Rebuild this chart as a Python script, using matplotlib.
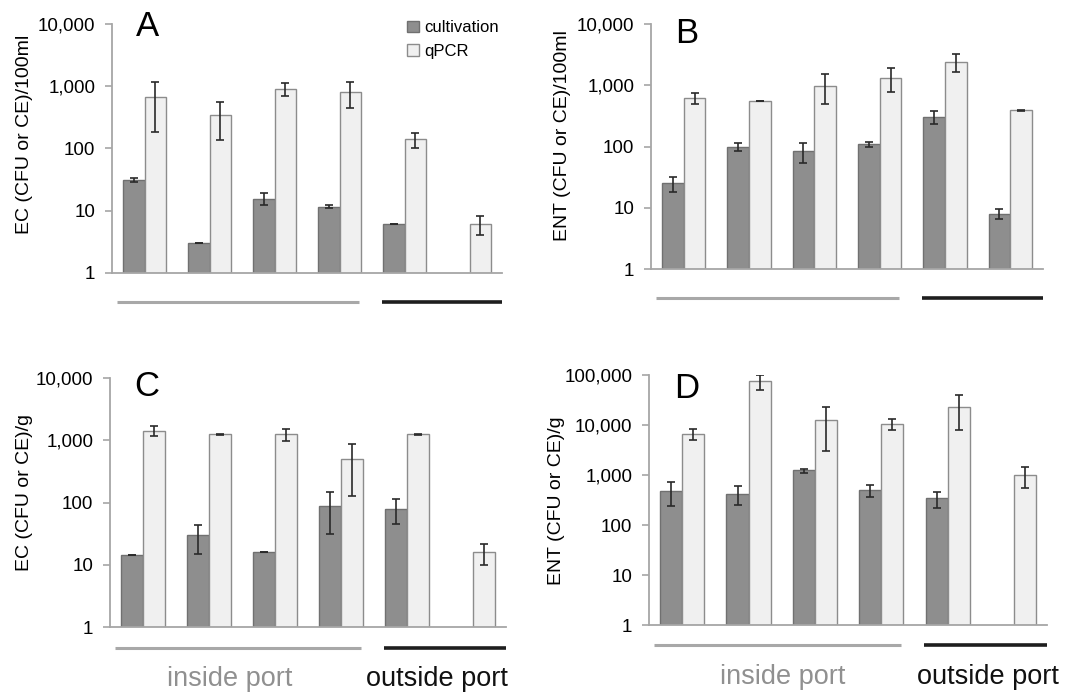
import numpy as np
import matplotlib
matplotlib.use("Agg")
import matplotlib.pyplot as plt
import matplotlib.transforms as mtransforms
from matplotlib.ticker import FixedLocator, FuncFormatter, NullLocator
from matplotlib.patches import Patch

plt.rcParams['font.family'] = ['Liberation Sans', 'DejaVu Sans']

nan = np.nan

# panel A - EC water (CFU or CE)/100ml
a_cult = [31, 3.0, 15.4, 11.6, 6.1, nan]
a_cult_lo = [29, 3.0, 12.2, 10.9, 6.1, nan]
a_cult_hi = [33, 3.0, 19.3, 12.4, 6.1, nan]
a_qpcr = [673, 349, 917, 800, 141, 6.1]
a_qpcr_lo = [181, 138, 690, 447, 102, 4.0]
a_qpcr_hi = [1170, 566, 1140, 1170, 179, 8.1]

# panel B - ENT water
b_cult = [25, 99, 84, 110, 305, 8.0]
b_cult_lo = [17.8, 86, 54, 98, 234, 6.45]
b_cult_hi = [32, 113, 115, 119, 377, 9.4]
b_qpcr = [629, 548, 988, 1333, 2370, 391]
b_qpcr_lo = [490, 548, 490, 769, 1650, 387]
b_qpcr_hi = [760, 548, 1510, 1890, 3240, 395]

# panel C - EC sediment (CFU or CE)/g
c_cult = [14.5, 29.6, 16.1, 89, 78, nan]
c_cult_lo = [14.5, 15, 16.1, 31, 44.5, nan]
c_cult_hi = [14.5, 43, 16.1, 146, 112, nan]
c_qpcr = [1418, 1253, 1238, 496, 1253, 16]
c_qpcr_lo = [1150, 1225, 955, 129, 1225, 10]
c_qpcr_hi = [1690, 1280, 1490, 875, 1280, 21.7]

# panel D - ENT sediment
d_cult = [490, 426, 1247, 505, 349, nan]
d_cult_lo = [242, 253, 1120, 360, 220, nan]
d_cult_hi = [718, 597, 1346, 625, 467, nan]
d_qpcr = [6730, 74800, 12800, 10350, 23300, 1022]
d_qpcr_lo = [5110, 49400, 3030, 7850, 7850, 545]
d_qpcr_hi = [8220, 98500, 23300, 13000, 39300, 1476]

series_names = ["cultivation", "qPCR"]
group_names = ["inside port", "outside port"]

dark = "#8e8e8e"
dark_edge = "#707070"
light = "#f0f0f0"
light_edge = "#8c8c8c"
axis_col = "#a6a6a6"


def fmt(v, pos):
    return "{:,}".format(int(round(v)))


def draw_panel(ax, cult, cult_lo, cult_hi, qpcr, qpcr_lo, qpcr_hi, top, ylab, letter, letter_y):
    x = np.arange(len(cult))
    w = 1 / 3
    for vals, lo, hi, off, fc, ec in [(cult, cult_lo, cult_hi, -w / 2, dark, dark_edge),
                                      (qpcr, qpcr_lo, qpcr_hi, w / 2, light, light_edge)]:
        vals = np.array(vals, dtype=float)
        ax.bar(x + off, vals - 1, width=w, bottom=1, color=fc, edgecolor=ec, linewidth=1.0, zorder=2)
        err = np.vstack([vals - np.array(lo), np.array(hi) - vals])
        ax.errorbar(x + off, vals, yerr=err, fmt="none", ecolor="#2a2a2a", elinewidth=1.2,
                    capsize=3, capthick=1.2, zorder=3)
    ax.set_yscale("log")
    ax.set_ylim(1, top)
    ax.set_xlim(-0.5, len(cult) - 0.5)
    ticks = [10 ** k for k in range(int(np.log10(top)) + 1)]
    ax.yaxis.set_major_locator(FixedLocator(ticks))
    ax.yaxis.set_minor_locator(NullLocator())
    ax.yaxis.set_major_formatter(FuncFormatter(fmt))
    ax.set_xticks([])
    for s in ["top", "right"]:
        ax.spines[s].set_visible(False)
    for s in ["left", "bottom"]:
        ax.spines[s].set_color(axis_col)
        ax.spines[s].set_linewidth(1.3)
    ax.tick_params(axis="y", length=5, width=1.2, color=axis_col, pad=7, labelsize=13.5)
    ax.set_ylabel(ylab, fontsize=14, va="center")
    ax.text(0.062, letter_y, letter, transform=ax.transAxes, fontsize=25, ha="left", va="center")


fig = plt.figure(figsize=(10.76, 6.96), dpi=100)
axA = fig.add_axes([0.1041, 0.6078, 0.3625, 0.3578])
axB = fig.add_axes([0.6050, 0.6135, 0.3643, 0.3520])
axC = fig.add_axes([0.1022, 0.0991, 0.3680, 0.3578])
axD = fig.add_axes([0.6032, 0.1020, 0.3700, 0.3590])

draw_panel(axA, a_cult, a_cult_lo, a_cult_hi, a_qpcr, a_qpcr_lo, a_qpcr_hi, 1e4,
           "EC (CFU or CE)/100ml", "A", 0.99)
draw_panel(axB, b_cult, b_cult_lo, b_cult_hi, b_qpcr, b_qpcr_lo, b_qpcr_hi, 1e4,
           "ENT (CFU or CE)/100ml", "B", 0.96)
draw_panel(axC, c_cult, c_cult_lo, c_cult_hi, c_qpcr, c_qpcr_lo, c_qpcr_hi, 1e4,
           "EC (CFU or CE)/g", "C", 0.965)
draw_panel(axD, d_cult, d_cult_lo, d_cult_hi, d_qpcr, d_qpcr_lo, d_qpcr_hi, 1e5,
           "ENT (CFU or CE)/g", "D", 0.945)

axA.yaxis.set_label_coords(-0.225, 0.558)
axB.yaxis.set_label_coords(-0.226, 0.543)
axC.yaxis.set_label_coords(-0.215, 0.542)
axD.yaxis.set_label_coords(-0.232, 0.496)

# legend in panel A
handles = [Patch(facecolor=dark, edgecolor=dark_edge), Patch(facecolor=light, edgecolor=light_edge)]
axA.legend(handles, series_names, loc="upper right", bbox_to_anchor=(1.03, 1.075), frameon=False,
           fontsize=12, handlelength=0.7, handleheight=0.7, handletextpad=0.3, labelspacing=0.5)

# group lines under the bars
for ax, ly in [(axA, -0.115), (axB, -0.118), (axC, -0.084), (axD, -0.08)]:
    tr = mtransforms.blended_transform_factory(ax.transData, ax.transAxes)
    ax.plot([-0.42, 3.3], [ly, ly], color="#a8a8a8", lw=2.2, transform=tr, clip_on=False,
            solid_capstyle="butt")
    ax.plot([3.65, 5.5], [ly, ly], color="#1e1e1e", lw=2.6, transform=tr, clip_on=False,
            solid_capstyle="butt")

for ax, xin, xout in [(axC, 1.32, 4.45), (axD, 1.52, 4.6)]:
    tr = mtransforms.blended_transform_factory(ax.transData, ax.transAxes)
    ax.text(xin, -0.21, group_names[0], transform=tr, ha="center", va="center",
            fontsize=19.5, color="#909090")
    ax.text(xout, -0.21, group_names[1], transform=tr, ha="center", va="center",
            fontsize=19.5, color="#111111")

fig.savefig("out.png", dpi=100)
